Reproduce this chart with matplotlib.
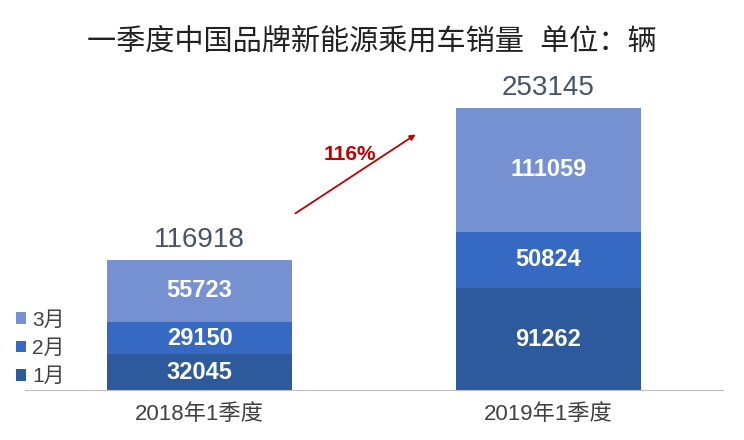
import matplotlib
matplotlib.use('Agg')
import matplotlib.pyplot as plt

plt.rcParams['font.family'] = ['Liberation Sans', 'Noto Sans CJK SC', 'DejaVu Sans']

# ── Data ────────────────────────────────────────────────────
categories = ['2018年1季度', '2019年1季度']
months = ['1月', '2月', '3月']
jan = [32045, 91262]
feb = [29150, 50824]
mar = [55723, 111059]
totals = [116918, 253145]
growth_label = '116%'

colors = ['#2C5A9C', '#3669C1', '#7591D1']

fig = plt.figure(figsize=(7.44, 4.40), dpi=100)
ax = fig.add_axes([25 / 744, 50 / 440, 698 / 744, 312 / 440])

x = list(range(len(categories)))
width = 0.53
series = [jan, feb, mar]
bottoms = [0] * len(categories)
handles = []
for vals, col, name in zip(series, colors, months):
    b = ax.bar(x, vals, width, bottom=bottoms, color=col, label=name, zorder=2)
    handles.append(b)
    for xi, v, bt in zip(x, vals, bottoms):
        ax.text(xi, bt + v / 2, f'{v}', ha='center', va='center',
                color='white', fontsize=17, fontweight='bold')
    bottoms = [bt + v for bt, v in zip(bottoms, vals)]

for xi, t in zip(x, totals):
    ax.text(xi, t + 6000, f'{t}', ha='center', va='bottom',
            color='#44546A', fontsize=20)

# growth arrow
ax.annotate('', xy=(0.626, 230700), xytext=(0.268, 157100),
            arrowprops=dict(arrowstyle='-|>', color='#C00000', lw=1.3,
                            mutation_scale=8))
ax.text(0.43, 211000, growth_label, color='#C00000', fontsize=15,
        fontweight='bold', ha='center', va='center')

ax.set_xlim(-0.5, 1.5)
ax.set_ylim(0, 280000)
ax.set_xticks(x)
ax.set_xticklabels(categories, fontsize=16, color='#404040')
ax.tick_params(axis='x', length=0, pad=10)
ax.set_yticks([])
for s in ['top', 'right', 'left']:
    ax.spines[s].set_visible(False)
ax.spines['bottom'].set_color('#BFBFBF')

leg = ax.legend(handles[::-1], months[::-1], loc='lower left',
                bbox_to_anchor=(-0.04, -0.048), frameon=False, fontsize=15,
                handlelength=0.5, handleheight=0.5, handletextpad=0.3,
                labelspacing=0.45, labelcolor='#404040')

fig.text(0.5, 0.905, '一季度中国品牌新能源乘用车销量  单位：辆', ha='center',
         va='center', fontsize=21, color='#222222')

fig.savefig('out.png', dpi=100)
